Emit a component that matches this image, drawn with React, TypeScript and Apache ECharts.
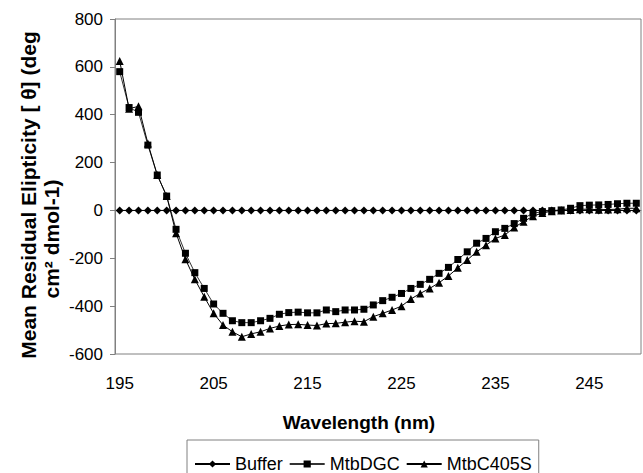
import React, { useEffect, useRef } from "react";
import * as echarts from "echarts";

const wavelengths: string[] = [];
for (let w = 195; w <= 250; w++) wavelengths.push(String(w));

const buffer = [
  0, 0, 0, 0, 0, 0, 0, 0, 0, 0, 0, 0, 0, 0, 0, 0, 0, 0, 0, 0, 0, 0, 0, 0, 0, 0, 0, 0,
  0, 0, 0, 0, 0, 0, 0, 0, 0, 0, 0, 0, 0, 0, 0, 0, 0, 0, 0, 0, 0, 0, 0, 0, 0, 0, 0, 0,
];

const mtbDGC = [
  580, 430, 410, 273, 148, 60, -79, -179, -260, -326, -391, -430, -461, -469, -469, -461,
  -451, -434, -427, -425, -428, -428, -416, -423, -416, -416, -413, -395, -377, -363, -347,
  -326, -309, -288, -263, -238, -205, -173, -137, -117, -89, -75, -55, -33, -12, -5, -1, 2,
  9, 20, 22, 23, 25, 28, 30, 30,
];

const mtbC405S = [
  625, 425, 435, 280, 148, 60, -95, -204, -288, -361, -430, -479, -507, -528, -516, -507,
  -493, -483, -477, -476, -479, -481, -473, -472, -467, -463, -465, -444, -430, -416, -400,
  -370, -347, -326, -302, -274, -240, -207, -173, -145, -117, -103, -71, -47, -24, -11, -3, 0,
  2, 5, 5, 3, 4, 5, 9, 9,
];

const yTitle1 = "Mean Residual Elipticity [ θ] (deg";
const yTitle2 = "cm² dmol-1)";
const xTitle = "Wavelength (nm)";

const FONT = '"Liberation Sans", Arial, sans-serif';

export default function App() {
  const ref = useRef<HTMLDivElement>(null);
  useEffect(() => {
    if (!ref.current) return;
    const chart = echarts.init(ref.current, undefined, { renderer: "svg" });
    const lineSeries = (name: string, data: number[], symbol: string, size: number, color: string) => ({
      name,
      type: "line",
      data,
      symbol,
      symbolSize: size,
      showAllSymbol: true,
      lineStyle: { color, width: 1 },
      itemStyle: { color: "#000", borderWidth: 0 },
      emphasis: { disabled: true },
    });
    chart.setOption({
      animation: false,
      backgroundColor: "#fff",
      textStyle: { fontFamily: FONT },
      grid: {
        left: 115,
        top: 19,
        right: 2,
        bottom: 119,
        show: true,
        borderColor: "#808080",
        borderWidth: 1,
        containLabel: false,
      },
      xAxis: {
        type: "category",
        data: wavelengths,
        boundaryGap: true,
        axisLine: { lineStyle: { color: "#808080", width: 1 } },
        axisTick: { interval: 0, length: 6, lineStyle: { color: "#808080" } },
        axisLabel: { interval: 9, color: "#000", fontSize: 17, fontFamily: FONT, margin: 21 },
        splitLine: { show: false },
      },
      yAxis: {
        type: "value",
        min: -600,
        max: 800,
        interval: 200,
        axisLine: { show: true, lineStyle: { color: "#808080", width: 1 } },
        axisTick: { show: true, length: 5, lineStyle: { color: "#808080" } },
        axisLabel: { color: "#000", fontSize: 17, fontFamily: FONT, margin: 12 },
        splitLine: { show: false },
      },
      legend: {
        left: 187,
        top: 440,
        orient: "horizontal",
        itemWidth: 35,
        itemHeight: 9,
        itemGap: 6,
        padding: [15, 7, 30, 7],
        borderColor: "#808080",
        borderWidth: 1,
        textStyle: { color: "#000", fontSize: 18, fontFamily: FONT },
        data: ["Buffer", "MtbDGC", "MtbC405S"],
      },
      graphic: [
        {
          type: "text",
          x: 28.7,
          y: 195,
          rotation: Math.PI / 2,
          style: {
            text: yTitle1,
            fontSize: 21,
            fontWeight: "bold",
            fontFamily: FONT,
            fill: "#000",
            align: "center",
            verticalAlign: "middle",
          },
        },
        {
          type: "text",
          x: 51,
          y: 239,
          rotation: Math.PI / 2,
          style: {
            text: yTitle2,
            fontSize: 21,
            fontWeight: "bold",
            fontFamily: FONT,
            fill: "#000",
            align: "center",
            verticalAlign: "middle",
          },
        },
        {
          type: "text",
          x: 359,
          y: 422,
          style: {
            text: xTitle,
            fontSize: 19,
            fontWeight: "bold",
            fontFamily: FONT,
            fill: "#000",
            align: "center",
            verticalAlign: "middle",
          },
        },
      ],
      series: [
        lineSeries("Buffer", buffer, "diamond", 8, "#000"),
        lineSeries("MtbDGC", mtbDGC, "rect", 7, "#333"),
        lineSeries("MtbC405S", mtbC405S, "triangle", 8, "#000"),
      ],
    });
    return () => chart.dispose();
  }, []);
  return (
    <div
      ref={ref}
      style={{ position: "absolute", left: 0, top: 0, width: 643, height: 473 }}
    />
  );
}
